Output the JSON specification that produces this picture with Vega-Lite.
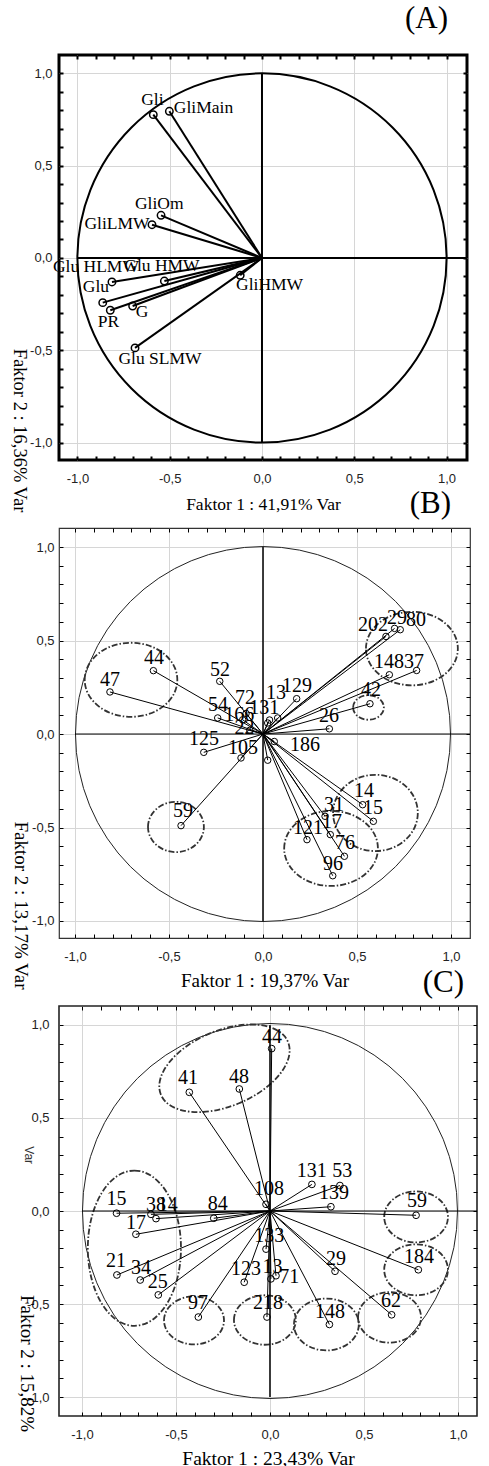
{
 "$schema": "https://vega.github.io/schema/vega-lite/v6.json",
 "padding": {"left": 8, "top": 1, "right": 0, "bottom": 0},
 "background": "white",
 "spacing": 68,
 "bounds": "flush",
 "config": {
  "axis": {"domain": false, "labelFont": "Liberation Sans", "labelFontSize": 13, "labelColor": "#222", "titleFont": "Liberation Serif", "titleFontWeight": "normal", "titleColor": "black", "tickColor": "black"},
  "title": {"font": "Liberation Serif", "fontWeight": "normal", "color": "black", "fontSize": 31, "anchor": "end", "frame": "group", "baseline": "alphabetic"}
 },
 "datasets": {
  "A_vec": [
   {"label": "Gli", "x": -0.589, "y": 0.776, "lx": -0.594, "ly": 0.856},
   {"label": "GliMain", "x": -0.502, "y": 0.794, "lx": -0.317, "ly": 0.812},
   {"label": "GliOm", "x": -0.547, "y": 0.231, "lx": -0.557, "ly": 0.294},
   {"label": "GliLMW", "x": -0.596, "y": 0.18, "lx": -0.786, "ly": 0.186},
   {"label": "Glu HLMW", "x": -0.813, "y": -0.13, "lx": -0.9, "ly": -0.049},
   {"label": "Glu HMW", "x": -0.529, "y": -0.125, "lx": -0.542, "ly": -0.043},
   {"label": "Glu", "x": -0.863, "y": -0.242, "lx": -0.9, "ly": -0.157},
   {"label": "PR", "x": -0.822, "y": -0.283, "lx": -0.832, "ly": -0.347},
   {"label": "G", "x": -0.701, "y": -0.26, "lx": -0.65, "ly": -0.292},
   {"label": "Glu SLMW", "x": -0.688, "y": -0.487, "lx": -0.553, "ly": -0.545},
   {"label": "GliHMW", "x": -0.118, "y": -0.094, "lx": 0.041, "ly": -0.148}
  ],
  "B_vec": [
   {"label": "202", "x": 0.654, "y": 0.522, "lx": 0.585, "ly": 0.584},
   {"label": "29", "x": 0.7, "y": 0.565, "lx": 0.713, "ly": 0.62},
   {"label": "80", "x": 0.73, "y": 0.558, "lx": 0.814, "ly": 0.61},
   {"label": "148", "x": 0.672, "y": 0.317, "lx": 0.67, "ly": 0.385},
   {"label": "37", "x": 0.817, "y": 0.34, "lx": 0.803, "ly": 0.385},
   {"label": "42", "x": 0.569, "y": 0.162, "lx": 0.574, "ly": 0.235},
   {"label": "26", "x": 0.353, "y": 0.028, "lx": 0.351, "ly": 0.096},
   {"label": "129", "x": 0.179, "y": 0.189, "lx": 0.181, "ly": 0.257},
   {"label": "13", "x": 0.078, "y": 0.086, "lx": 0.069, "ly": 0.219},
   {"label": "52", "x": -0.23, "y": 0.282, "lx": -0.229, "ly": 0.342},
   {"label": "44", "x": -0.583, "y": 0.339, "lx": -0.58, "ly": 0.406},
   {"label": "47", "x": -0.814, "y": 0.225, "lx": -0.814, "ly": 0.29},
   {"label": "54", "x": -0.241, "y": 0.086, "lx": -0.239, "ly": 0.157},
   {"label": "72", "x": -0.09, "y": 0.11, "lx": -0.096, "ly": 0.193},
   {"label": "131", "x": 0.025, "y": 0.059, "lx": 0.007, "ly": 0.139},
   {"label": "166", "x": -0.108, "y": 0.076, "lx": -0.126, "ly": 0.103},
   {"label": "22", "x": -0.07, "y": 0.02, "lx": -0.099, "ly": 0.032},
   {"label": "125", "x": -0.315, "y": -0.098, "lx": -0.314, "ly": -0.027},
   {"label": "105", "x": -0.117, "y": -0.128, "lx": -0.106, "ly": -0.075},
   {"label": "59", "x": -0.436, "y": -0.49, "lx": -0.426, "ly": -0.412},
   {"label": "186", "x": 0.06, "y": -0.04, "lx": 0.223, "ly": -0.057},
   {"label": "14", "x": 0.53, "y": -0.378, "lx": 0.537, "ly": -0.305},
   {"label": "15", "x": 0.587, "y": -0.467, "lx": 0.585, "ly": -0.396},
   {"label": "31", "x": 0.33, "y": -0.44, "lx": 0.378, "ly": -0.378},
   {"label": "17", "x": 0.358, "y": -0.538, "lx": 0.367, "ly": -0.471},
   {"label": "121", "x": 0.234, "y": -0.565, "lx": 0.239, "ly": -0.503},
   {"label": "76", "x": 0.433, "y": -0.654, "lx": 0.436, "ly": -0.583},
   {"label": "96", "x": 0.371, "y": -0.758, "lx": 0.372, "ly": -0.694},
   {"label": "", "x": 0.025, "y": -0.14, "lx": 0.025, "ly": -0.14},
   {"label": "", "x": 0.035, "y": 0.075, "lx": 0.035, "ly": 0.075}
  ],
  "B_ell": [
   {"cx": -0.702, "cy": 0.29, "a": 0.247, "ratio": "0.8", "angle": 0},
   {"cx": 0.792, "cy": 0.457, "a": 0.245, "ratio": "0.8", "angle": 0},
   {"cx": 0.561, "cy": 0.142, "a": 0.082, "ratio": "0.8", "angle": 0},
   {"cx": -0.463, "cy": -0.497, "a": 0.149, "ratio": "0.9", "angle": 0},
   {"cx": 0.598, "cy": -0.422, "a": 0.226, "ratio": "0.9", "angle": 0},
   {"cx": 0.362, "cy": -0.612, "a": 0.25, "ratio": "0.8", "angle": 0}
  ],
  "C_vec": [
   {"label": "44", "x": 0.009, "y": 0.873, "lx": 0.011, "ly": 0.936},
   {"label": "41", "x": -0.429, "y": 0.638, "lx": -0.436, "ly": 0.713},
   {"label": "48", "x": -0.163, "y": 0.656, "lx": -0.165, "ly": 0.722},
   {"label": "131", "x": 0.223, "y": 0.143, "lx": 0.222, "ly": 0.214},
   {"label": "53", "x": 0.372, "y": 0.137, "lx": 0.385, "ly": 0.214},
   {"label": "139", "x": 0.324, "y": 0.023, "lx": 0.34, "ly": 0.098},
   {"label": "108", "x": -0.021, "y": 0.036, "lx": -0.005, "ly": 0.118},
   {"label": "59", "x": 0.777, "y": -0.023, "lx": 0.782, "ly": 0.053},
   {"label": "184", "x": 0.789, "y": -0.316, "lx": 0.793, "ly": -0.246},
   {"label": "62", "x": 0.647, "y": -0.558, "lx": 0.644, "ly": -0.485},
   {"label": "29", "x": 0.346, "y": -0.324, "lx": 0.351, "ly": -0.257},
   {"label": "148", "x": 0.316, "y": -0.61, "lx": 0.319, "ly": -0.544},
   {"label": "218", "x": -0.016, "y": -0.57, "lx": -0.011, "ly": -0.497},
   {"label": "97", "x": -0.381, "y": -0.57, "lx": -0.383, "ly": -0.497},
   {"label": "123", "x": -0.137, "y": -0.383, "lx": -0.128, "ly": -0.312},
   {"label": "13", "x": 0.005, "y": -0.365, "lx": 0.014, "ly": -0.303},
   {"label": "71", "x": 0.032, "y": -0.348, "lx": 0.103, "ly": -0.357},
   {"label": "133", "x": -0.021, "y": -0.205, "lx": -0.004, "ly": -0.134},
   {"label": "84", "x": -0.299, "y": -0.039, "lx": -0.278, "ly": 0.036},
   {"label": "15", "x": -0.816, "y": -0.012, "lx": -0.816, "ly": 0.063},
   {"label": "38", "x": -0.633, "y": -0.018, "lx": -0.606, "ly": 0.032},
   {"label": "14", "x": -0.606, "y": -0.041, "lx": -0.544, "ly": 0.032},
   {"label": "17", "x": -0.713, "y": -0.125, "lx": -0.713, "ly": -0.062},
   {"label": "21", "x": -0.814, "y": -0.344, "lx": -0.819, "ly": -0.267},
   {"label": "34", "x": -0.69, "y": -0.371, "lx": -0.686, "ly": -0.306},
   {"label": "25", "x": -0.594, "y": -0.451, "lx": -0.597, "ly": -0.383}
  ],
  "C_ell": [
   {"cx": -0.242, "cy": 0.767, "a": 0.367, "ratio": "0.55", "angle": -22.6},
   {"cx": -0.721, "cy": -0.2, "a": 0.414, "ratio": "0.6", "angle": 90},
   {"cx": -0.404, "cy": -0.588, "a": 0.16, "ratio": "0.8", "angle": 0},
   {"cx": -0.027, "cy": -0.586, "a": 0.165, "ratio": "0.8", "angle": 0},
   {"cx": 0.3, "cy": -0.61, "a": 0.173, "ratio": "0.8", "angle": 0},
   {"cx": 0.636, "cy": -0.572, "a": 0.168, "ratio": "0.8", "angle": 0},
   {"cx": 0.777, "cy": -0.316, "a": 0.17, "ratio": "0.8", "angle": 0},
   {"cx": 0.777, "cy": -0.032, "a": 0.17, "ratio": "0.8", "angle": 0}
  ]
 },
 "vconcat": [
  {
   "width": 408, "height": 405,
   "view": {"stroke": "black", "strokeWidth": 3},
   "title": {"text": "(A)", "offset": 19, "dx": -19},
   "resolve": {"axis": {"x": "independent", "y": "independent"}},
   "layer": [
    {"data": {"values": [{"cx": 0, "cy": 0}]},
     "mark": {"type": "point", "shape": "circle", "size": 136309, "filled": false, "stroke": "black", "strokeWidth": 2, "opacity": 1},
     "encoding": {
      "x": {"field": "cx", "type": "quantitative", "scale": {"domain": [-1.1, 1.111], "nice": false, "zero": false}, "axis": null},
      "y": {"field": "cy", "type": "quantitative", "scale": {"domain": [-1.094, 1.099], "nice": false, "zero": false}, "axis": null}}},
    {"data": {"values": [{}]},
     "mark": {"type": "rule", "stroke": "black", "strokeWidth": 2},
     "encoding": {
      "x": {"datum": 0, "type": "quantitative", "scale": {"domain": [-1.1, 1.111], "nice": false, "zero": false},
            "axis": {"orient": "top", "values": [-1,-0.9,-0.8,-0.7,-0.6,-0.5,-0.4,-0.3,-0.2,-0.1,0,0.1,0.2,0.3,0.4,0.5,0.6,0.7,0.8,0.9,1], "labels": false, "grid": false, "tickSize": -4, "tickWidth": 2, "title": null}},
      "y": {"datum": -1, "type": "quantitative", "scale": {"domain": [-1.094, 1.099], "nice": false, "zero": false},
            "axis": {"orient": "right", "values": [-1,-0.9,-0.8,-0.7,-0.6,-0.5,-0.4,-0.3,-0.2,-0.1,0,0.1,0.2,0.3,0.4,0.5,0.6,0.7,0.8,0.9,1], "labels": false, "grid": false, "tickSize": -4, "tickWidth": 2, "title": null}},
      "y2": {"datum": 1}}},
    {"data": {"values": [{}]},
     "mark": {"type": "rule", "stroke": "black", "strokeWidth": 2},
     "encoding": {
      "x": {"datum": -1, "type": "quantitative", "scale": {"domain": [-1.1, 1.111], "nice": false, "zero": false}, "axis": null},
      "x2": {"datum": 1.111},
      "y": {"datum": 0, "type": "quantitative", "scale": {"domain": [-1.094, 1.099], "nice": false, "zero": false}, "axis": null}}},
    {"data": {"name": "A_vec"},
     "mark": {"type": "rule", "stroke": "black", "strokeWidth": 2},
     "encoding": {
      "x": {"field": "x", "type": "quantitative", "scale": {"domain": [-1.1, 1.111], "nice": false, "zero": false},
            "axis": {"orient": "bottom", "values": [-1,-0.9,-0.8,-0.7,-0.6,-0.5,-0.4,-0.3,-0.2,-0.1,0,0.1,0.2,0.3,0.4,0.5,0.6,0.7,0.8,0.9,1],
                     "labelExpr": "abs(datum.value*2-round(datum.value*2))<0.01 ? (datum.value<-0.01?'-':'') + replace(format(abs(datum.value),'.1f'),'.',',') : ''",
                     "labelOverlap": false, "labelFlush": false, "tickSize": -4, "tickWidth": 2, "labelPadding": 16,
                     "grid": true, "gridColor": "#d6d6d6", "gridOpacity": {"condition": {"test": "abs(datum.value*2-round(datum.value*2))<0.01", "value": 1}, "value": 0},
                     "title": "Faktor 1 : 41,91% Var", "titleFontSize": 17.5, "titleBaseline": "alphabetic", "titleY": 49}},
      "x2": {"datum": 0},
      "y": {"field": "y", "type": "quantitative", "scale": {"domain": [-1.094, 1.099], "nice": false, "zero": false},
            "axis": {"orient": "left", "values": [-1,-0.9,-0.8,-0.7,-0.6,-0.5,-0.4,-0.3,-0.2,-0.1,0,0.1,0.2,0.3,0.4,0.5,0.6,0.7,0.8,0.9,1],
                     "labelExpr": "abs(datum.value*2-round(datum.value*2))<0.01 ? (datum.value<-0.01?'-':'') + replace(format(abs(datum.value),'.1f'),'.',',') : ''",
                     "labelOverlap": false, "labelFlush": false, "tickSize": -4, "tickWidth": 2, "labelPadding": 11,
                     "grid": true, "gridColor": "#d6d6d6", "gridOpacity": {"condition": {"test": "abs(datum.value*2-round(datum.value*2))<0.01", "value": 1}, "value": 0},
                     "title": "Faktor 2 : 16,36% Var", "titleFontSize": 18.5, "titleAngle": 90, "titleX": -40, "titleY": 375, "titleBaseline": "middle", "titleAlign": "center"}},
      "y2": {"datum": 0}}},
    {"data": {"name": "A_vec"},
     "mark": {"type": "point", "shape": "circle", "filled": false, "size": 55, "stroke": "black", "strokeWidth": 1.5, "opacity": 1},
     "encoding": {
      "x": {"field": "x", "type": "quantitative", "scale": {"domain": [-1.1, 1.111], "nice": false, "zero": false}, "axis": null},
      "y": {"field": "y", "type": "quantitative", "scale": {"domain": [-1.094, 1.099], "nice": false, "zero": false}, "axis": null}}},
    {"data": {"name": "A_vec"},
     "mark": {"type": "text", "font": "Liberation Serif", "fontSize": 17.5, "align": "center", "baseline": "middle", "color": "black"},
     "encoding": {
      "x": {"field": "lx", "type": "quantitative", "scale": {"domain": [-1.1, 1.111], "nice": false, "zero": false}, "axis": null},
      "y": {"field": "ly", "type": "quantitative", "scale": {"domain": [-1.094, 1.099], "nice": false, "zero": false}, "axis": null},
      "text": {"field": "label"}}}
   ]
  },
  {
   "width": 411, "height": 410,
   "view": {"stroke": "#333", "strokeWidth": 1.2},
   "title": {"text": "(B)", "offset": 8, "dx": -19},
   "resolve": {"axis": {"x": "independent", "y": "independent"}},
   "layer": [
    {"data": {"values": [{"cx": 0, "cy": 0}]},
     "mark": {"type": "point", "shape": "circle", "size": 140625, "filled": false, "stroke": "#222", "strokeWidth": 1, "opacity": 1},
     "encoding": {
      "x": {"field": "cx", "type": "quantitative", "scale": {"domain": [-1.085, 1.101], "nice": false, "zero": false}, "axis": null},
      "y": {"field": "cy", "type": "quantitative", "scale": {"domain": [-1.091, 1.102], "nice": false, "zero": false}, "axis": null}}},
    {"data": {"name": "B_ell"},
     "mark": {"type": "point", "filled": false, "stroke": "#333", "strokeWidth": 1.8, "strokeDash": [6, 2, 1.5, 2], "opacity": 1},
     "encoding": {
      "x": {"field": "cx", "type": "quantitative", "scale": {"domain": [-1.085, 1.101], "nice": false, "zero": false}, "axis": null},
      "y": {"field": "cy", "type": "quantitative", "scale": {"domain": [-1.091, 1.102], "nice": false, "zero": false}, "axis": null},
      "size": {"field": "a", "type": "quantitative", "scale": {"type": "pow", "exponent": 2, "domain": [0, 1], "range": [0, 140625], "nice": false, "zero": true}, "legend": null},
      "shape": {"field": "ratio", "type": "nominal", "scale": {"domain": ["0.8", "0.9", "0.55", "0.6"], "range": [
        "M-1,0C-1,-0.4418,-0.5523,-0.8,0,-0.8C0.5523,-0.8,1,-0.4418,1,0C1,0.4418,0.5523,0.8,0,0.8C-0.5523,0.8,-1,0.4418,-1,0Z",
        "M-1,0C-1,-0.4971,-0.5523,-0.9,0,-0.9C0.5523,-0.9,1,-0.4971,1,0C1,0.4971,0.5523,0.9,0,0.9C-0.5523,0.9,-1,0.4971,-1,0Z",
        "M-1,0C-1,-0.3038,-0.5523,-0.55,0,-0.55C0.5523,-0.55,1,-0.3038,1,0C1,0.3038,0.5523,0.55,0,0.55C-0.5523,0.55,-1,0.3038,-1,0Z",
        "M-1,0C-1,-0.3314,-0.5523,-0.6,0,-0.6C0.5523,-0.6,1,-0.3314,1,0C1,0.3314,0.5523,0.6,0,0.6C-0.5523,0.6,-1,0.3314,-1,0Z"]}, "legend": null},
      "angle": {"field": "angle", "type": "quantitative", "scale": null}}},
    {"data": {"values": [{}]},
     "mark": {"type": "rule", "stroke": "black", "strokeWidth": 1.5},
     "encoding": {
      "x": {"datum": 0, "type": "quantitative", "scale": {"domain": [-1.085, 1.101], "nice": false, "zero": false},
            "axis": {"orient": "top", "values": [-1,-0.9,-0.8,-0.7,-0.6,-0.5,-0.4,-0.3,-0.2,-0.1,0,0.1,0.2,0.3,0.4,0.5,0.6,0.7,0.8,0.9,1], "labels": false, "grid": false, "tickSize": -4, "tickWidth": 1, "title": null}},
      "y": {"datum": -1, "type": "quantitative", "scale": {"domain": [-1.091, 1.102], "nice": false, "zero": false},
            "axis": {"orient": "right", "values": [-1,-0.9,-0.8,-0.7,-0.6,-0.5,-0.4,-0.3,-0.2,-0.1,0,0.1,0.2,0.3,0.4,0.5,0.6,0.7,0.8,0.9,1], "labels": false, "grid": false, "tickSize": -4, "tickWidth": 1, "title": null}},
      "y2": {"datum": 1}}},
    {"data": {"values": [{}]},
     "mark": {"type": "rule", "stroke": "black", "strokeWidth": 1},
     "encoding": {
      "x": {"datum": -1, "type": "quantitative", "scale": {"domain": [-1.085, 1.101], "nice": false, "zero": false}, "axis": null},
      "x2": {"datum": 1.101},
      "y": {"datum": 0, "type": "quantitative", "scale": {"domain": [-1.091, 1.102], "nice": false, "zero": false}, "axis": null}}},
    {"data": {"name": "B_vec"},
     "mark": {"type": "rule", "stroke": "black", "strokeWidth": 1},
     "encoding": {
      "x": {"field": "x", "type": "quantitative", "scale": {"domain": [-1.085, 1.101], "nice": false, "zero": false},
            "axis": {"orient": "bottom", "values": [-1,-0.9,-0.8,-0.7,-0.6,-0.5,-0.4,-0.3,-0.2,-0.1,0,0.1,0.2,0.3,0.4,0.5,0.6,0.7,0.8,0.9,1],
                     "labelExpr": "abs(datum.value*2-round(datum.value*2))<0.01 ? (datum.value<-0.01?'-':'') + replace(format(abs(datum.value),'.1f'),'.',',') : ''",
                     "labelOverlap": false, "labelFlush": false, "tickSize": -4, "tickWidth": 1, "labelPadding": 16,
                     "grid": true, "gridColor": "#d6d6d6", "gridOpacity": {"condition": {"test": "abs(datum.value*2-round(datum.value*2))<0.01", "value": 1}, "value": 0},
                     "title": "Faktor 1 : 19,37% Var", "titleFontSize": 19, "titleBaseline": "alphabetic", "titleY": 48}},
      "x2": {"datum": 0},
      "y": {"field": "y", "type": "quantitative", "scale": {"domain": [-1.091, 1.102], "nice": false, "zero": false},
            "axis": {"orient": "left", "values": [-1,-0.9,-0.8,-0.7,-0.6,-0.5,-0.4,-0.3,-0.2,-0.1,0,0.1,0.2,0.3,0.4,0.5,0.6,0.7,0.8,0.9,1],
                     "labelExpr": "abs(datum.value*2-round(datum.value*2))<0.01 ? (datum.value<-0.01?'-':'') + replace(format(abs(datum.value),'.1f'),'.',',') : ''",
                     "labelOverlap": false, "labelFlush": false, "tickSize": -4, "tickWidth": 1, "labelPadding": 9,
                     "grid": true, "gridColor": "#d6d6d6", "gridOpacity": {"condition": {"test": "abs(datum.value*2-round(datum.value*2))<0.01", "value": 1}, "value": 0},
                     "title": "Faktor 2 : 13,17% Var", "titleFontSize": 19, "titleAngle": 90, "titleX": -39, "titleY": 377, "titleBaseline": "middle", "titleAlign": "center"}},
      "y2": {"datum": 0}}},
    {"data": {"name": "B_vec"},
     "mark": {"type": "point", "shape": "circle", "filled": false, "size": 42, "stroke": "black", "strokeWidth": 1, "opacity": 1},
     "encoding": {
      "x": {"field": "x", "type": "quantitative", "scale": {"domain": [-1.085, 1.101], "nice": false, "zero": false}, "axis": null},
      "y": {"field": "y", "type": "quantitative", "scale": {"domain": [-1.091, 1.102], "nice": false, "zero": false}, "axis": null}}},
    {"data": {"name": "B_vec"},
     "mark": {"type": "text", "font": "Liberation Serif", "fontSize": 20, "align": "center", "baseline": "middle", "color": "black"},
     "encoding": {
      "x": {"field": "lx", "type": "quantitative", "scale": {"domain": [-1.085, 1.101], "nice": false, "zero": false}, "axis": null},
      "y": {"field": "ly", "type": "quantitative", "scale": {"domain": [-1.091, 1.102], "nice": false, "zero": false}, "axis": null},
      "text": {"field": "label"}}}
   ]
  },
  {
   "width": 418, "height": 410,
   "view": {"stroke": "#222", "strokeWidth": 1.6},
   "title": {"text": "(C)", "offset": 7, "dx": -13},
   "resolve": {"axis": {"x": "independent", "y": "independent"}},
   "layer": [
    {"data": {"values": [{"cx": 0, "cy": 0}]},
     "mark": {"type": "point", "shape": "circle", "size": 140625, "filled": false, "stroke": "#222", "strokeWidth": 1, "opacity": 1},
     "encoding": {
      "x": {"field": "cx", "type": "quantitative", "scale": {"domain": [-1.122, 1.101], "nice": false, "zero": false}, "axis": null},
      "y": {"field": "cy", "type": "quantitative", "scale": {"domain": [-1.102, 1.102], "nice": false, "zero": false}, "axis": null}}},
    {"data": {"name": "C_ell"},
     "mark": {"type": "point", "filled": false, "stroke": "#333", "strokeWidth": 1.8, "strokeDash": [6, 2, 1.5, 2], "opacity": 1},
     "encoding": {
      "x": {"field": "cx", "type": "quantitative", "scale": {"domain": [-1.122, 1.101], "nice": false, "zero": false}, "axis": null},
      "y": {"field": "cy", "type": "quantitative", "scale": {"domain": [-1.102, 1.102], "nice": false, "zero": false}, "axis": null},
      "size": {"field": "a", "type": "quantitative", "scale": {"type": "pow", "exponent": 2, "domain": [0, 1], "range": [0, 140625], "nice": false, "zero": true}, "legend": null},
      "shape": {"field": "ratio", "type": "nominal", "scale": {"domain": ["0.8", "0.9", "0.55", "0.6"], "range": [
        "M-1,0C-1,-0.4418,-0.5523,-0.8,0,-0.8C0.5523,-0.8,1,-0.4418,1,0C1,0.4418,0.5523,0.8,0,0.8C-0.5523,0.8,-1,0.4418,-1,0Z",
        "M-1,0C-1,-0.4971,-0.5523,-0.9,0,-0.9C0.5523,-0.9,1,-0.4971,1,0C1,0.4971,0.5523,0.9,0,0.9C-0.5523,0.9,-1,0.4971,-1,0Z",
        "M-1,0C-1,-0.3038,-0.5523,-0.55,0,-0.55C0.5523,-0.55,1,-0.3038,1,0C1,0.3038,0.5523,0.55,0,0.55C-0.5523,0.55,-1,0.3038,-1,0Z",
        "M-1,0C-1,-0.3314,-0.5523,-0.6,0,-0.6C0.5523,-0.6,1,-0.3314,1,0C1,0.3314,0.5523,0.6,0,0.6C-0.5523,0.6,-1,0.3314,-1,0Z"]}, "legend": null},
      "angle": {"field": "angle", "type": "quantitative", "scale": null}}},
    {"data": {"values": [{}]},
     "mark": {"type": "rule", "stroke": "black", "strokeWidth": 1.5},
     "encoding": {
      "x": {"datum": 0, "type": "quantitative", "scale": {"domain": [-1.122, 1.101], "nice": false, "zero": false},
            "axis": {"orient": "top", "values": [-1,-0.9,-0.8,-0.7,-0.6,-0.5,-0.4,-0.3,-0.2,-0.1,0,0.1,0.2,0.3,0.4,0.5,0.6,0.7,0.8,0.9,1], "labels": false, "grid": false, "tickSize": -4, "tickWidth": 1, "title": null}},
      "y": {"datum": -1, "type": "quantitative", "scale": {"domain": [-1.102, 1.102], "nice": false, "zero": false},
            "axis": {"orient": "right", "values": [-1,-0.9,-0.8,-0.7,-0.6,-0.5,-0.4,-0.3,-0.2,-0.1,0,0.1,0.2,0.3,0.4,0.5,0.6,0.7,0.8,0.9,1], "labels": false, "grid": false, "tickSize": -4, "tickWidth": 1, "title": null}},
      "y2": {"datum": 1}}},
    {"data": {"values": [{}]},
     "mark": {"type": "rule", "stroke": "black", "strokeWidth": 1},
     "encoding": {
      "x": {"datum": -1, "type": "quantitative", "scale": {"domain": [-1.122, 1.101], "nice": false, "zero": false}, "axis": null},
      "x2": {"datum": 1.101},
      "y": {"datum": 0, "type": "quantitative", "scale": {"domain": [-1.102, 1.102], "nice": false, "zero": false}, "axis": null}}},
    {"data": {"name": "C_vec"},
     "mark": {"type": "rule", "stroke": "black", "strokeWidth": 1},
     "encoding": {
      "x": {"field": "x", "type": "quantitative", "scale": {"domain": [-1.122, 1.101], "nice": false, "zero": false},
            "axis": {"orient": "bottom", "values": [-1,-0.9,-0.8,-0.7,-0.6,-0.5,-0.4,-0.3,-0.2,-0.1,0,0.1,0.2,0.3,0.4,0.5,0.6,0.7,0.8,0.9,1],
                     "labelExpr": "abs(datum.value*2-round(datum.value*2))<0.01 ? (datum.value<-0.01?'-':'') + replace(format(abs(datum.value),'.1f'),'.',',') : ''",
                     "labelOverlap": false, "labelFlush": false, "tickSize": -4, "tickWidth": 1, "labelPadding": 16,
                     "grid": true, "gridColor": "#d6d6d6", "gridOpacity": {"condition": {"test": "abs(datum.value*2-round(datum.value*2))<0.01", "value": 1}, "value": 0},
                     "title": "Faktor 1 : 23,43% Var", "titleFontSize": 19.5, "titleBaseline": "alphabetic", "titleY": 48}},
      "x2": {"datum": 0},
      "y": {"field": "y", "type": "quantitative", "scale": {"domain": [-1.102, 1.102], "nice": false, "zero": false},
            "axis": {"orient": "left", "values": [-1,-0.9,-0.8,-0.7,-0.6,-0.5,-0.4,-0.3,-0.2,-0.1,0,0.1,0.2,0.3,0.4,0.5,0.6,0.7,0.8,0.9,1],
                     "labelExpr": "abs(datum.value*2-round(datum.value*2))<0.01 ? (datum.value<-0.01?'-':'') + replace(format(abs(datum.value),'.1f'),'.',',') : ''",
                     "labelOverlap": false, "labelFlush": false, "tickSize": -4, "tickWidth": 1, "labelPadding": 14,
                     "grid": true, "gridColor": "#d6d6d6", "gridOpacity": {"condition": {"test": "abs(datum.value*2-round(datum.value*2))<0.01", "value": 1}, "value": 0},
                     "title": "Faktor 2 : 15,82%", "titleFontSize": 19, "titleAngle": 90, "titleX": -33, "titleY": 357, "titleBaseline": "middle", "titleAlign": "center"}},
      "y2": {"datum": 0}}},
    {"data": {"name": "C_vec"},
     "mark": {"type": "point", "shape": "circle", "filled": false, "size": 45, "stroke": "black", "strokeWidth": 1, "opacity": 1},
     "encoding": {
      "x": {"field": "x", "type": "quantitative", "scale": {"domain": [-1.122, 1.101], "nice": false, "zero": false}, "axis": null},
      "y": {"field": "y", "type": "quantitative", "scale": {"domain": [-1.102, 1.102], "nice": false, "zero": false}, "axis": null}}},
    {"data": {"name": "C_vec"},
     "mark": {"type": "text", "font": "Liberation Serif", "fontSize": 20, "align": "center", "baseline": "middle", "color": "black"},
     "encoding": {
      "x": {"field": "lx", "type": "quantitative", "scale": {"domain": [-1.122, 1.101], "nice": false, "zero": false}, "axis": null},
      "y": {"field": "ly", "type": "quantitative", "scale": {"domain": [-1.102, 1.102], "nice": false, "zero": false}, "axis": null},
      "text": {"field": "label"}}},
    {"data": {"values": [{"x": -1.28, "y": 0.3, "t": "Var"}]},
     "mark": {"type": "text", "font": "Liberation Sans", "fontSize": 12, "angle": 90, "align": "center", "baseline": "middle", "color": "#333"},
     "encoding": {
      "x": {"field": "x", "type": "quantitative", "scale": {"domain": [-1.122, 1.101], "nice": false, "zero": false}, "axis": null},
      "y": {"field": "y", "type": "quantitative", "scale": {"domain": [-1.102, 1.102], "nice": false, "zero": false}, "axis": null},
      "text": {"field": "t"}}}
   ]
  }
 ]
}
